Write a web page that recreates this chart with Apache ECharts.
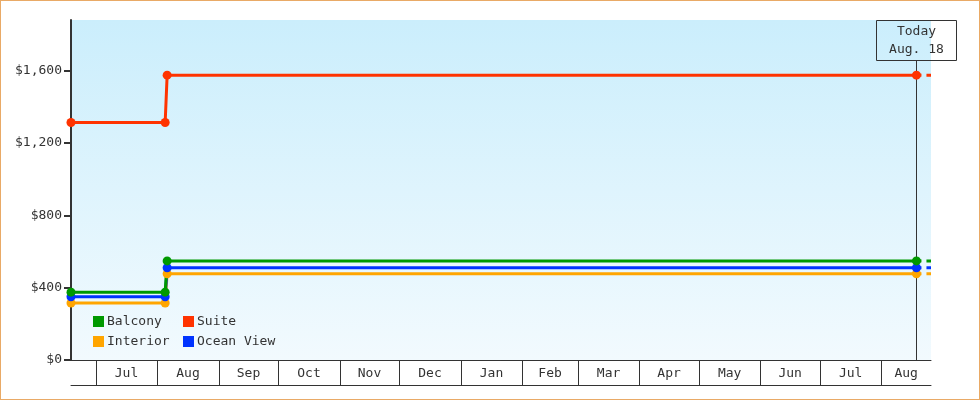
<!DOCTYPE html>
<html><head><meta charset="utf-8">
<script src="https://cdn.jsdelivr.net/npm/echarts@6/dist/echarts.min.js"></script>
<style>
html,body{margin:0;padding:0;background:#fff}
#wrap{position:relative;width:980px;height:400px}
#c{width:980px;height:400px}
#frame{position:absolute;left:0;top:0;width:980px;height:400px;box-sizing:border-box;border:1px solid #e9aa66;pointer-events:none}
</style>
</head><body><div id="wrap"><div id="c"></div><div id="frame"></div></div>
<script>
// ---- data ----
const dates = ['2024-06-18 13:00', '2024-08-05', '2024-08-06', '2025-08-18 16:00'];
const balcony = [375, 375, 548, 548];
const suite = [1313, 1313, 1575, 1575];
const interior = [315, 315, 477, 477];
const oceanView = [350, 350, 510, 510];
const projectionEnd = '2025-08-26';
const axisStart = '2024-06-18 13:00';
const axisEnd = '2025-08-26';
const todayDate = '2025-08-18 16:00';
const todayText = ['Today', 'Aug. 18'];
const monthStarts = ['2024-07-01','2024-08-01','2024-09-01','2024-10-01','2024-11-01','2024-12-01',
  '2025-01-01','2025-02-01','2025-03-01','2025-04-01','2025-05-01','2025-06-01','2025-07-01','2025-08-01'];
const monthLabels = ['Jul','Aug','Sep','Oct','Nov','Dec','Jan','Feb','Mar','Apr','May','Jun','Jul','Aug'];
const yMax = 1880;
const yInterval = 400;
const legendNames = ['Balcony', 'Suite', 'Interior', 'Ocean View'];

const FONT = '"DejaVu Sans Mono", monospace';
const TXT = '#333';
const colors = { Balcony: '#009900', Suite: '#ff3300', Interior: '#ffa500', 'Ocean View': '#0033ff' };

function pts(vals) { return dates.map((d, i) => [d, vals[i]]); }
function proj(vals) { return [[todayDate, vals[vals.length - 1]], [projectionEnd, vals[vals.length - 1]]]; }

const seriesDefs = [
  ['Interior', interior],
  ['Ocean View', oceanView],
  ['Suite', suite],
  ['Balcony', balcony]
];

const series = [];
seriesDefs.forEach(([name, vals]) => {
  series.push({
    name: name, type: 'line', data: pts(vals), color: colors[name],
    symbol: 'circle', symbolSize: 9, lineStyle: { width: 3 },
    emphasis: { disabled: true }, animation: false
  });
  series.push({
    name: name + ' (projected)', type: 'line', data: proj(vals), color: colors[name],
    symbol: 'none', lineStyle: { width: 3, type: [5, 5] }, animation: false, silent: true
  });
});

// month bands: separators at month starts, labels centered in their band
series.push({
  type: 'custom', name: 'monthLabels', silent: true, animation: false, clip: false,
  data: monthStarts.map((d, i) => [d, i]),
  renderItem: function (params, api) {
    const i = api.value(1);
    const start = api.value(0);
    const nextStr = i + 1 < monthStarts.length ? monthStarts[i + 1] : axisEnd;
    const end = Math.min(+echarts.time.parse(nextStr), +echarts.time.parse(axisEnd));
    const x1 = api.coord([start, 0]);
    const x2 = api.coord([end, 0]);
    const cs = params.coordSys;
    const base = cs.y + cs.height;
    const sx = Math.round(x1[0]) + 0.5;
    return {
      type: 'group', children: [
        { type: 'line', shape: { x1: sx, y1: base, x2: sx, y2: base + 25 }, style: { stroke: '#333', lineWidth: 1 } },
        { type: 'text', style: {
          text: monthLabels[i], x: (x1[0] + x2[0]) / 2, y: base + 13.5,
          align: 'center', verticalAlign: 'middle', font: '13px ' + FONT, fill: TXT
        } }
      ]
    };
  }
});

// today marker
series.push({
  type: 'custom', name: 'today', silent: true, animation: false, z: 1, clip: false,
  data: [[todayDate, 0]],
  renderItem: function (params, api) {
    const p = api.coord([api.value(0), 0]);
    const cs = params.coordSys;
    const x = Math.round(p[0]) + 0.5;
    const top = cs.y + 0.5;
    return {
      type: 'group', children: [
        { type: 'line', shape: { x1: x, y1: top + 40, x2: x, y2: p[1] }, style: { stroke: '#333', lineWidth: 1 } },
        { type: 'rect', shape: { x: x - 40, y: top, width: 80, height: 40 }, style: { fill: 'rgba(0,0,0,0)', stroke: '#333', lineWidth: 1 } },
        { type: 'text', style: { text: todayText.join('\n'), x: x, y: top + 20, align: 'center', verticalAlign: 'middle', font: '13px ' + FONT, fill: TXT, lineHeight: 18 } }
      ]
    };
  }
});

const legendPos = [[93, 315], [183, 315], [93, 335], [183, 335]];
const legends = legendNames.map((n, i) => ({
  orient: 'horizontal', left: legendPos[i][0], top: legendPos[i][1], padding: 0,
  itemWidth: 11, itemHeight: 11, icon: 'rect', selectedMode: false, data: [n],
  textStyle: { fontFamily: FONT, fontSize: 13, color: TXT, padding: [0, 0, 0, -2] }
}));

const option = {
  animation: false,
  grid: {
    left: 71, right: 49, top: 20, bottom: 40, show: true, borderWidth: 0,
    backgroundColor: new echarts.graphic.LinearGradient(0, 0, 0, 1, [
      { offset: 0, color: '#cbeefc' }, { offset: 1, color: '#f2fafe' }
    ])
  },
  legend: legends,
  xAxis: [{
    type: 'time', min: axisStart, max: axisEnd, position: 'bottom',
    axisLine: { show: true, lineStyle: { color: '#333', width: 1 } },
    axisTick: { show: false },
    axisLabel: { show: false },
    splitLine: { show: false }
  }, {
    type: 'time', min: axisStart, max: axisEnd, position: 'bottom', offset: 25,
    axisLine: { show: true, lineStyle: { color: '#333', width: 1 } },
    axisTick: { show: false }, axisLabel: { show: false }, splitLine: { show: false }
  }],
  yAxis: {
    type: 'value', min: 0, max: yMax, interval: yInterval,
    axisLine: { show: true, lineStyle: { color: '#333', width: 2 } },
    axisTick: { show: true, length: 7, lineStyle: { color: '#333', width: 2 } },
    axisLabel: {
      margin: 9, color: TXT, fontFamily: FONT, fontSize: 13,
      formatter: v => '$' + v.toLocaleString('en-US'),
      showMaxLabel: false
    },
    splitLine: { show: false }
  },
  series: series
};

const chart = echarts.init(document.getElementById('c'), null, { renderer: 'canvas' });
chart.setOption(option);
</script>
</body></html>
